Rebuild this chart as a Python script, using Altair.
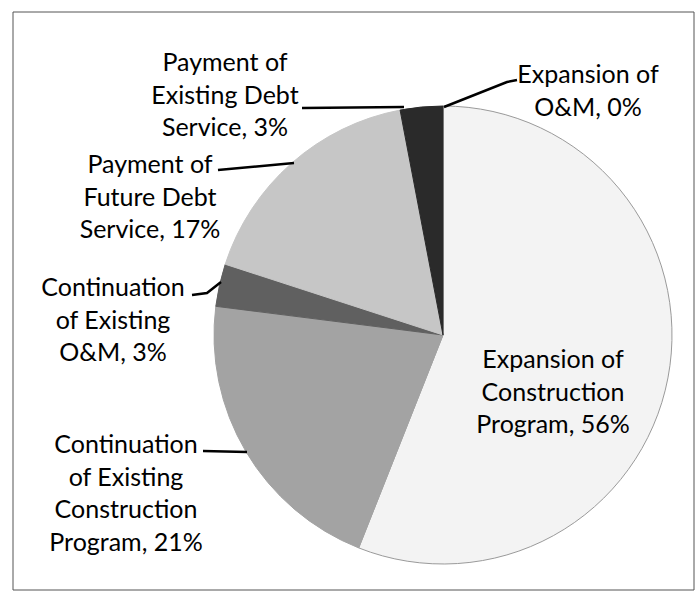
import altair as alt
import pandas as pd

W, H = 697, 592

# ---------------- data ----------------
categories = [
    "Expansion of O&M",
    "Expansion of Construction Program",
    "Continuation of Existing Construction Program",
    "Continuation of Existing O&M",
    "Payment of Future Debt Service",
    "Payment of Existing Debt Service",
]
shares = [0, 56, 21, 3, 17, 3]
label_heads = [
    ["Expansion of", "O&M,"],
    ["Expansion of", "Construction", "Program,"],
    ["Continuation", "of Existing", "Construction", "Program,"],
    ["Continuation", "of Existing", "O&M,"],
    ["Payment of", "Future Debt", "Service,"],
    ["Payment of", "Existing Debt", "Service,"],
]
fills = ["#111111", "#f3f3f3", "#a3a3a3", "#606060", "#c6c6c6", "#2a2a2a"]
strokes = ["#111111", "#9a9a9a", "#a3a3a3", "#606060", "#c6c6c6", "#2a2a2a"]

# ---------------- layout ----------------
CX, CY, R = 443, 335, 229
# (x centre, y of first line)
label_xy = [(588, 75), (553, 360), (126, 445), (113, 288), (150, 165), (225, 63)]
leader_paths = [
    [(444, 107), (507, 82), (517, 80)],
    [],
    [(203, 451), (247, 452)],
    [(192, 295), (207, 293), (221, 282)],
    [(218, 170), (294, 163)],
    [(302, 108), (404, 107)],
]

def lines_for(i):
    head = label_heads[i]
    return head[:-1] + [f"{head[-1]} {shares[i]}%"]

slices = pd.DataFrame({"cat": categories, "share": shares, "idx": list(range(len(categories)))})
labels = pd.DataFrame({
    "cat": categories,
    "text": [lines_for(i) for i in range(len(categories))],
    "px": [p[0] for p in label_xy],
    "py": [p[1] for p in label_xy],
})
leader_rows = []
for i, path in enumerate(leader_paths):
    for k, (x, y) in enumerate(path):
        leader_rows.append({"cat": categories[i], "k": k, "px": x, "py": y})
leaders = pd.DataFrame(leader_rows)

xs = alt.Scale(domain=[0, W], range=[0, W])
ys = alt.Scale(domain=[0, H], range=[0, H])

pie = alt.Chart(slices).mark_arc(outerRadius=R, strokeWidth=1).encode(
    theta=alt.Theta("share:Q", stack=True),
    order=alt.Order("idx:Q"),
    color=alt.Color("cat:N", scale=alt.Scale(domain=categories, range=fills), legend=None),
    stroke=alt.Stroke("cat:N", scale=alt.Scale(domain=categories, range=strokes), legend=None),
    x=alt.value(CX),
    y=alt.value(CY),
)

lead = alt.Chart(leaders).mark_line(color="#000000", strokeWidth=2.5).encode(
    x=alt.X("px:Q", scale=xs, axis=None),
    y=alt.Y("py:Q", scale=ys, axis=None),
    detail="cat:N",
    order="k:Q",
)

txt = alt.Chart(labels).mark_text(
    font="Lato", fontSize=25, lineHeight=32.5, align="center", baseline="middle", color="#000000"
).encode(
    x=alt.X("px:Q", scale=xs, axis=None),
    y=alt.Y("py:Q", scale=ys, axis=None),
    text="text",
)

border = alt.Chart(pd.DataFrame({"a": [0]})).mark_rect(
    fillOpacity=0, stroke="#555555", strokeWidth=1
).encode(x=alt.value(13), x2=alt.value(694), y=alt.value(12), y2=alt.value(590))

chart = alt.layer(border, pie, lead, txt).properties(
    width=W, height=H, padding=0, background="#ffffff",
    autosize=alt.AutoSizeParams(type="none"),
).configure_view(stroke=None)

chart.save("out.html", embed_options={"renderer": "svg", "actions": False})
